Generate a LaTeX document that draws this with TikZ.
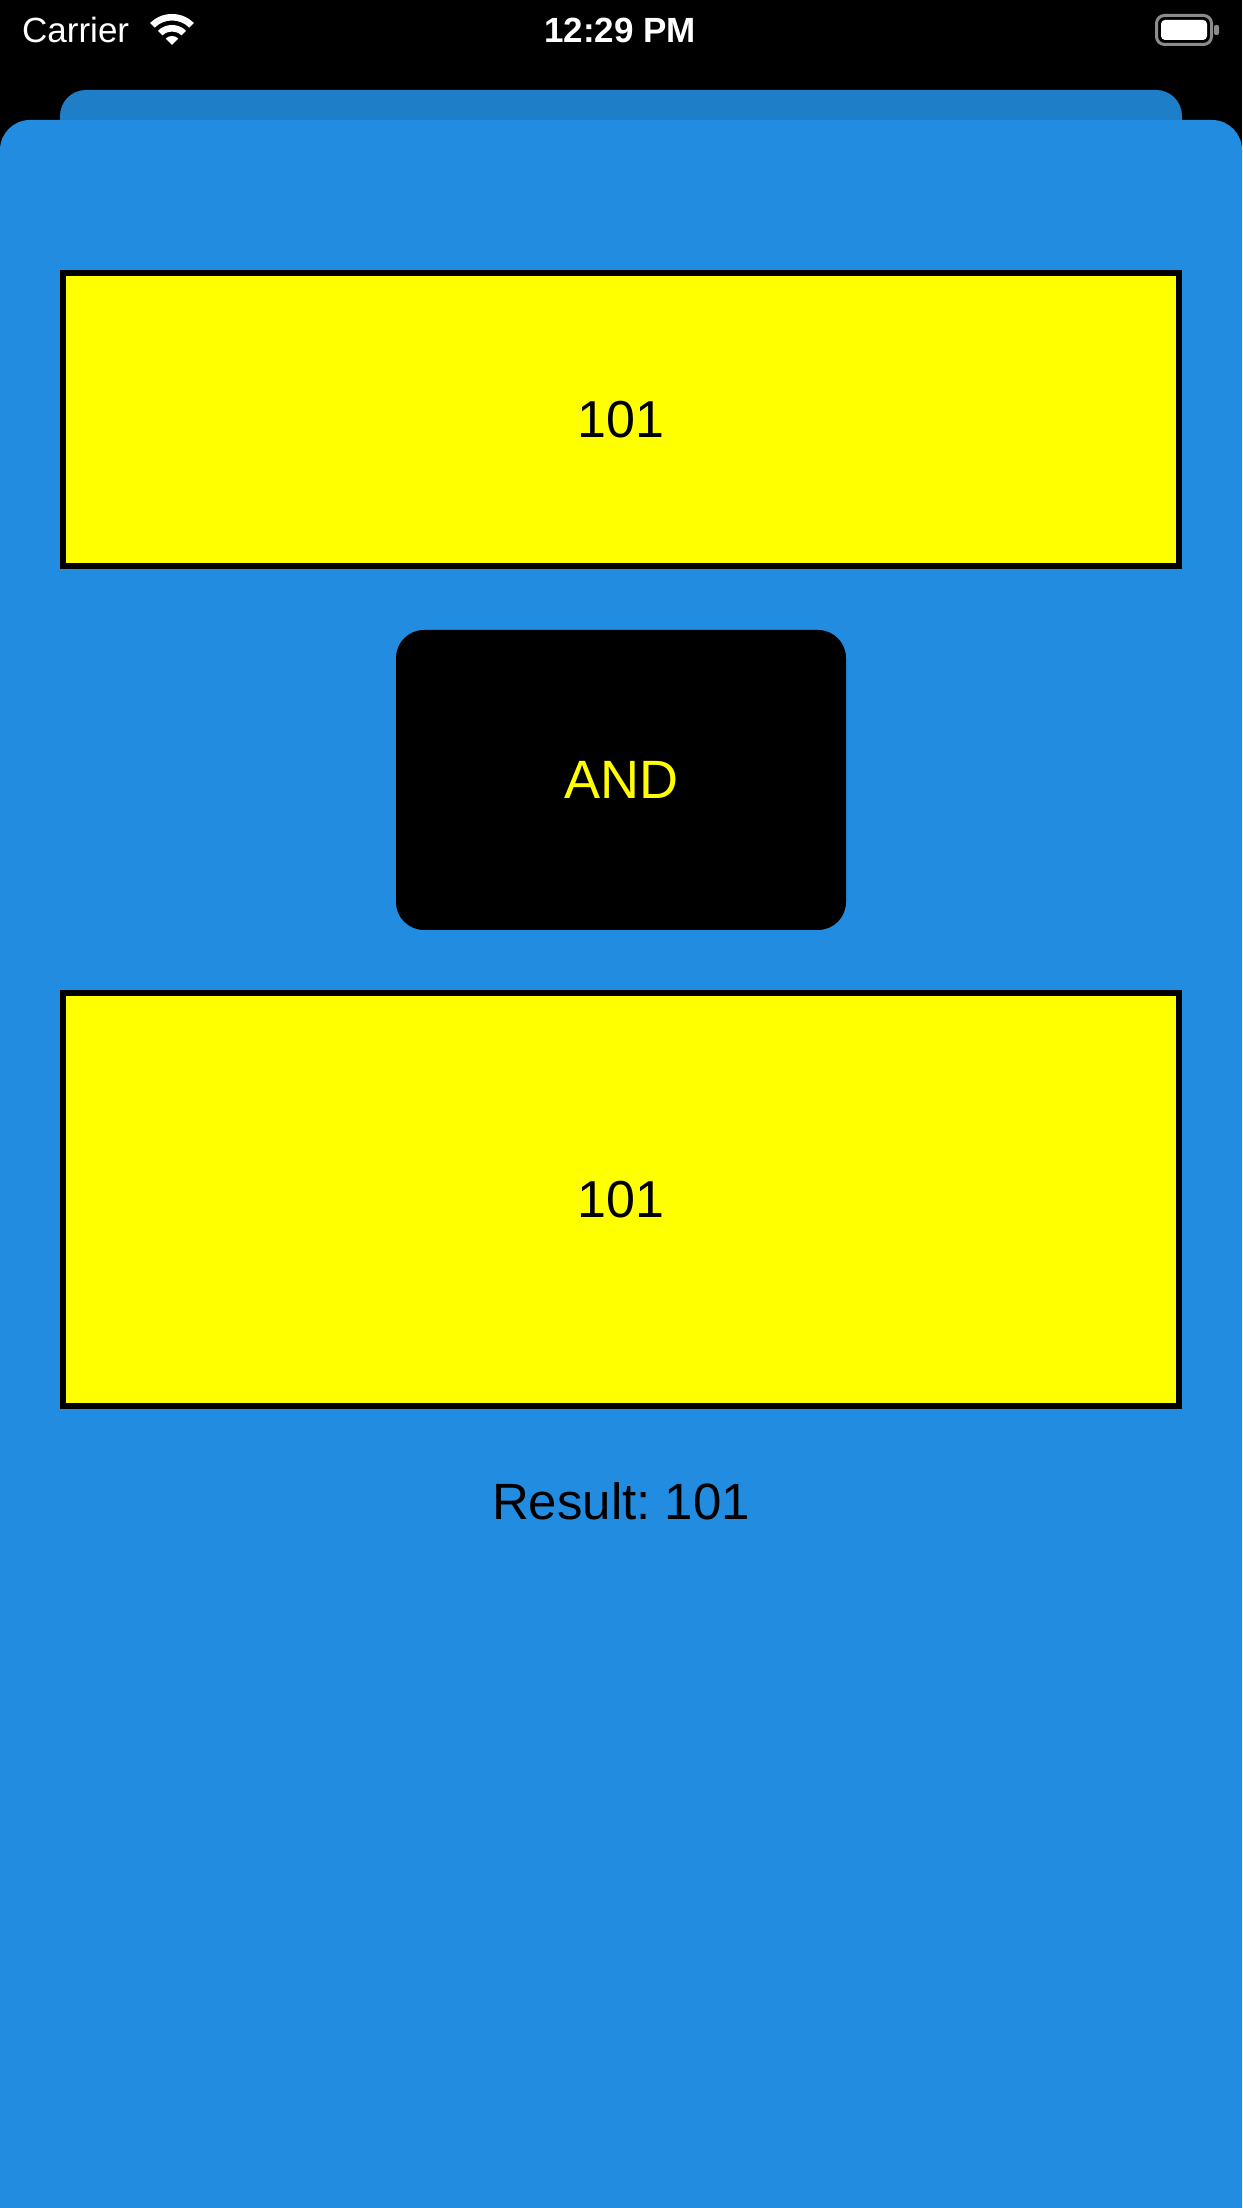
\documentclass[tikz,border=0pt]{standalone}
\usepackage{fontspec}
\setmainfont{Liberation Sans}
\frenchspacing
\definecolor{frontblue}{RGB}{33,140,224}
\definecolor{backblue}{RGB}{30,126,200}
\definecolor{batgray}{RGB}{140,140,140}
\definecolor{pureyellow}{RGB}{255,255,0}
\begin{document}
\begin{tikzpicture}[x=1pt,y=1pt,
  valbox/.style={draw=black,line width=6pt,fill=pureyellow,inner sep=0pt,minimum width=1116pt,font=\fontsize{52}{60}\selectfont,text=black},
  opbox/.style={fill=black,rounded corners=28pt,inner sep=0pt,minimum width=450pt,minimum height=300pt,font=\fontsize{54}{62}\selectfont,text=pureyellow},
  statustext/.style={text=white,inner sep=0pt,font=\fontsize{35}{40}\selectfont},
  resulttext/.style={text=black,inner sep=0pt,font=\fontsize{51}{60}\selectfont}]
\useasboundingbox (0,0) rectangle (1242,2208);
% screen background
\fill[black] (0,0) rectangle (1242,2208);
% back card
\fill[backblue,rounded corners=26pt] (60,1900) rectangle (1182,2118);
% front card
\fill[frontblue] (0,0) -- (0,2058) arc[start angle=180,end angle=90,radius=30] -- (1212,2088) arc[start angle=90,end angle=0,radius=30] -- (1242,0) -- cycle;
% status bar
\node[statustext,anchor=base west] (carrier) at (22,2165) {Carrier};
\node[statustext,anchor=base,font=\fontsize{35}{40}\selectfont\bfseries] (clock) at (620,2165) {12:29 PM};
% wifi icon
\fill[white] (172,2163) -- ++(45:9) arc[start angle=45,end angle=135,radius=9] -- cycle;
\fill[white] (172,2163) ++(45:13.5) arc[start angle=45,end angle=135,radius=13.5] -- ++(135:6.5) arc[start angle=135,end angle=45,radius=20] -- cycle;
\fill[white] (172,2163) ++(45:24.5) arc[start angle=45,end angle=135,radius=24.5] -- ++(135:6.5) arc[start angle=135,end angle=45,radius=31] -- cycle;
% battery
\draw[batgray,line width=3pt,rounded corners=8pt] (1156.5,2163.5) rectangle (1211.5,2192.5);
\fill[white,rounded corners=4pt] (1161,2168) rectangle (1207,2188);
\fill[batgray,rounded corners=2pt] (1214,2173) rectangle (1219,2183);
% content
\node[valbox,minimum height=293pt] (top) at (621,1788.5) {101};
\node[opbox] (op) at (621,1428) {AND};
\node[valbox,minimum height=413pt] (bottom) at (621,1008.5) {101};
\node[resulttext] (result) at (621,707) {Result: 101};
\end{tikzpicture}
\end{document}
